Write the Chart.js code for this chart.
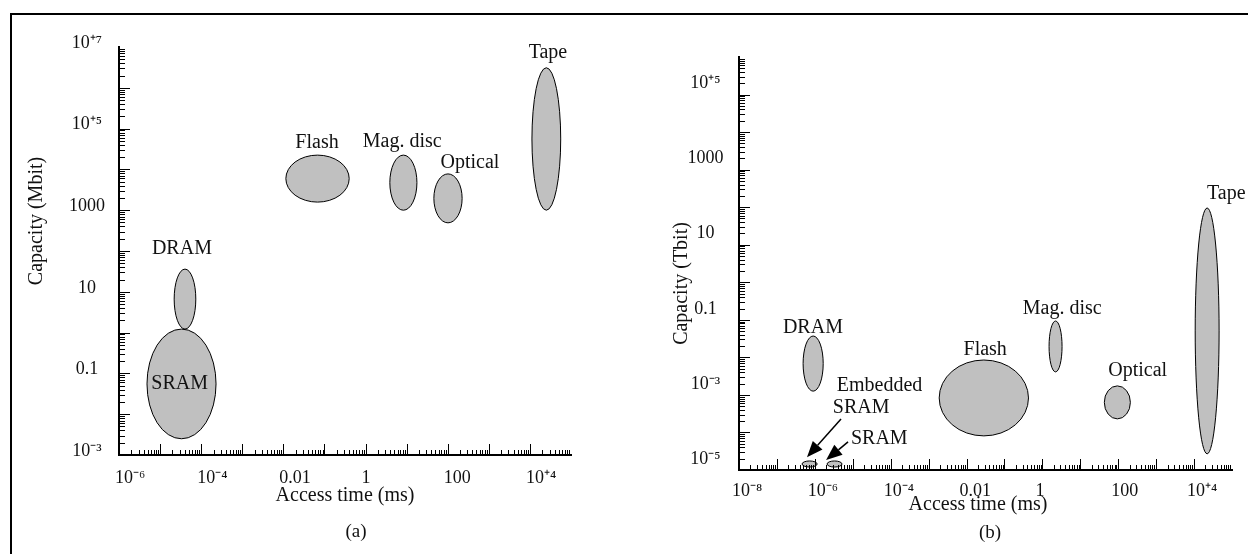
<!DOCTYPE html>
<html><head><meta charset="utf-8">
<script src="https://cdn.jsdelivr.net/npm/chart.js@4.4.1/dist/chart.umd.min.js"></script>
<style>
html,body{margin:0;padding:0;background:#fff;}
#wrap{position:relative;width:1248px;height:554px;overflow:hidden;background:#fff;}
#frame{position:absolute;left:10px;top:13px;right:-5px;bottom:-5px;border-top:2px solid #000;border-left:2px solid #000;}
canvas{position:absolute;top:0;}
#ca{left:0;width:620px;height:554px;}
#cb{left:620px;width:628px;height:554px;}
.cap{position:absolute;font-family:"Liberation Serif",serif;font-size:19px;color:#111;transform:translate(-50%,-50%);white-space:nowrap;}
</style></head>
<body><div id="wrap"><div id="frame"></div>
<canvas id="ca" width="620" height="554"></canvas>
<canvas id="cb" width="628" height="554"></canvas>
<div class="cap" style="left:356px;top:531px">(a)</div>
<div class="cap" style="left:990px;top:532px">(b)</div>
</div>
<script>
// ---------- Panel (a): capacity in Mbit vs access time in ms ----------
const techA      = ['SRAM', 'DRAM', 'Flash', 'Mag. disc', 'Optical', 'Tape'];
const accessMinA = [4.8e-6, 2.2e-5, 0.0115, 3.9, 46, 11200];
const accessMaxA = [2.3e-4, 7.4e-5, 0.40, 17.8, 224, 56200];
const capMinA    = [2.5e-3, 1.22, 1580, 1000, 490, 1000];
const capMaxA    = [1.22, 36, 22400, 22400, 7760, 3.1e6];
const labelXA    = [3.0e-5, 3.4e-5, 0.066, 7.8, 347, 27500];
const labelYA    = [0.055, 112, 44700, 46800, 14500, 7.1e6];
const xRangeA    = [1e-6, 1e5];
const yRangeA    = [1e-3, 1e7];
const xTickExpA  = [-6, -4, -2, 0, 2, 4];
const xTickTextA = ['10\u207B\u2076', '10\u207B\u2074', '0.01', '1', '100', '10\u207A\u2074'];
const yTickExpA  = [-3, -1, 1, 3, 5, 7];
const yTickTextA = ['10\u207B\u00B3', '0.1', '10', '1000', '10\u207A\u2075', '10\u207A\u2077'];

// ---------- Panel (b): capacity in Tbit vs access time in ms ----------
const techB      = ['Embedded SRAM', 'SRAM', 'DRAM', 'Flash', 'Mag. disc', 'Optical', 'Tape'];
const accessMinB = [4.6e-7, 2.1e-6, 4.9e-7, 1.9e-3, 1.5, 43, 10700];
const accessMaxB = [1.15e-6, 5.2e-6, 1.66e-6, 0.43, 3.3, 209, 45700];
const capMinB    = [1.2e-5, 1.2e-5, 1.26e-3, 8.1e-5, 4.1e-3, 2.3e-4, 2.7e-5];
const capMaxB    = [1.74e-5, 1.74e-5, 0.037, 8.5e-3, 0.093, 1.74e-3, 95];
const labelTextB = ['Embedded', 'SRAM', 'SRAM', 'DRAM', 'Flash', 'Mag. disc', 'Optical', 'Tape'];
const labelXB    = [5.1e-5, 1.66e-5, 5.0e-5, 8.9e-7, 0.031, 3.33, 327, 70800];
const labelYB    = [1.73e-3, 4.5e-4, 6.7e-5, 0.0605, 0.0157, 0.194, 4.3e-3, 224];
const arrowFromXB = [4.9e-6, 7.5e-6];
const arrowFromYB = [2.28e-4, 5.6e-5];
const arrowToXB   = [6.2e-7, 1.98e-6];
const arrowToYB   = [2.2e-5, 1.85e-5];
const xRangeB    = [1e-8, 1e5];
const yRangeB    = [1e-5, 1e6];
const xTickExpB  = [-8, -6, -4, -2, 0, 2, 4];
const xTickTextB = ['10\u207B\u2078', '10\u207B\u2076', '10\u207B\u2074', '0.01', '1', '100', '10\u207A\u2074'];
const yTickExpB  = [-5, -3, -1, 1, 3, 5];
const yTickTextB = ['10\u207B\u2075', '10\u207B\u00B3', '0.1', '10', '1000', '10\u207A\u2075'];

const FONT = '"Liberation Serif", "Times New Roman", serif';
Chart.defaults.font.family = FONT;
Chart.defaults.color = '#111';

function decadeTicks(scale) {
  const lo = Math.round(Math.log10(scale.min)), hi = Math.round(Math.log10(scale.max));
  const t = [];
  for (let e = lo; e < hi; e++) for (let k = 1; k <= 9; k++) t.push({value: k * Math.pow(10, e)});
  t.push({value: Math.pow(10, hi)});
  scale.ticks = t;
}
function tickLabel(exps, texts) {
  return (value) => {
    const e = Math.log10(value), r = Math.round(e);
    if (Math.abs(e - r) > 1e-6) return '';
    const i = exps.indexOf(r);
    return i >= 0 ? texts[i] : '';
  };
}
function isDecade(v) { const e = Math.log10(v); return Math.abs(e - Math.round(e)) < 1e-6; }

function overlayPlugin(spec) {
  return {
    id: 'overlay',
    beforeDatasetsDraw(chart) {
      const xs = chart.scales.x, ys = chart.scales.y, ctx = chart.ctx;
      ctx.save();
      for (let i = 0; i < spec.xMin.length; i++) {
        const x0 = xs.getPixelForValue(spec.xMin[i]), x1 = xs.getPixelForValue(spec.xMax[i]);
        const y0 = ys.getPixelForValue(spec.yMin[i]), y1 = ys.getPixelForValue(spec.yMax[i]);
        ctx.beginPath();
        ctx.ellipse((x0 + x1) / 2, (y0 + y1) / 2, Math.abs(x1 - x0) / 2, Math.abs(y1 - y0) / 2, 0, 0, Math.PI * 2);
        ctx.fillStyle = '#c0c0c0';
        ctx.fill();
        ctx.lineWidth = 1;
        ctx.strokeStyle = '#000';
        ctx.stroke();
      }
      ctx.restore();
    },
    afterDatasetsDraw(chart) {
      const xs = chart.scales.x, ys = chart.scales.y, ctx = chart.ctx;
      ctx.save();
      ctx.font = '20px ' + FONT;
      ctx.fillStyle = '#111';
      ctx.textAlign = 'center';
      ctx.textBaseline = 'middle';
      for (let i = 0; i < spec.lText.length; i++) {
        ctx.fillText(spec.lText[i], xs.getPixelForValue(spec.lX[i]), ys.getPixelForValue(spec.lY[i]));
      }
      if (spec.aFromX) {
        ctx.strokeStyle = '#000';
        ctx.fillStyle = '#000';
        for (let i = 0; i < spec.aFromX.length; i++) {
          const x0 = xs.getPixelForValue(spec.aFromX[i]), y0 = ys.getPixelForValue(spec.aFromY[i]);
          const x1 = xs.getPixelForValue(spec.aToX[i]), y1 = ys.getPixelForValue(spec.aToY[i]);
          const a = Math.atan2(y1 - y0, x1 - x0), L = 16, W = 6.5;
          const bx = x1 - L * Math.cos(a), by = y1 - L * Math.sin(a);
          ctx.lineWidth = 1.5;
          ctx.beginPath(); ctx.moveTo(x0, y0); ctx.lineTo(bx, by); ctx.stroke();
          ctx.beginPath();
          ctx.moveTo(x1, y1);
          ctx.lineTo(bx + W * Math.sin(a), by - W * Math.cos(a));
          ctx.lineTo(bx - W * Math.sin(a), by + W * Math.cos(a));
          ctx.closePath(); ctx.fill();
        }
      }
      ctx.restore();
    },
    afterDraw(chart) {
      const xs = chart.scales.x, ys = chart.scales.y, ctx = chart.ctx, ca = chart.chartArea;
      ctx.save();
      ctx.strokeStyle = '#000';
      ctx.lineWidth = 1;
      ctx.beginPath();
      xs.ticks.forEach(t => {
        if (t.value <= xs.min * 1.0001 || t.value >= xs.max * 0.9999) return;
        const p = Math.round(xs.getPixelForValue(t.value)) + 0.5;
        const len = isDecade(t.value) ? 11 : 5;
        ctx.moveTo(p, ca.bottom); ctx.lineTo(p, ca.bottom - len);
      });
      ys.ticks.forEach(t => {
        if (t.value <= ys.min * 1.0001 || t.value >= ys.max * 0.9999) return;
        const p = Math.round(ys.getPixelForValue(t.value)) + 0.5;
        const len = isDecade(t.value) ? 11 : 6;
        ctx.moveTo(ca.left, p); ctx.lineTo(ca.left + len, p);
      });
      ctx.stroke();
      ctx.restore();
    }
  };
}

function makeChart(id, o) {
  const centers = o.xMin.map((v, i) => ({x: Math.sqrt(v * o.xMax[i]), y: Math.sqrt(o.yMin[i] * o.yMax[i])}));
  return new Chart(document.getElementById(id), {
    type: 'scatter',
    data: {labels: o.tech, datasets: [{label: 'Memory technologies', data: centers, pointRadius: 0, pointHoverRadius: 0, showLine: false}]},
    options: {
      responsive: false, animation: false, devicePixelRatio: 1,
      layout: {padding: o.padding},
      plugins: {legend: {display: false}, tooltip: {enabled: false}},
      scales: {
        x: {
          type: 'logarithmic', min: o.xRange[0], max: o.xRange[1],
          afterBuildTicks: decadeTicks,
          afterFit: s => { s.height = 60; },
          grid: {display: false, drawTicks: false},
          border: {display: true, color: '#000', width: 2},
          ticks: {autoSkip: false, maxRotation: 0, minRotation: 0, align: 'start', labelOffset: o.xLabelOffset,
                  padding: o.xTickPad, color: '#111', font: {size: 18}, callback: tickLabel(o.xExp, o.xText)},
          title: {display: true, text: o.xTitle, color: '#111', font: {size: 20}, padding: {top: 0, bottom: o.xTitlePad}}
        },
        y: {
          type: 'logarithmic', min: o.yRange[0], max: o.yRange[1],
          afterBuildTicks: decadeTicks,
          afterFit: s => { s.width = 100; },
          grid: {display: false, drawTicks: false},
          border: {display: true, color: '#000', width: 2},
          ticks: {autoSkip: false, crossAlign: 'center', labelOffset: o.yLabelOffset, padding: o.yTickPad,
                  color: '#111', font: {size: 18}, callback: tickLabel(o.yExp, o.yText)},
          title: {display: true, text: o.yTitle, color: '#111', font: {size: 20}, padding: {top: o.yTitlePad, bottom: 0}}
        }
      }
    },
    plugins: [overlayPlugin(o)]
  });
}

makeChart('ca', {
  tech: techA, xMin: accessMinA, xMax: accessMaxA, yMin: capMinA, yMax: capMaxA,
  lText: techA, lX: labelXA, lY: labelYA,
  xRange: xRangeA, yRange: yRangeA, xExp: xTickExpA, xText: xTickTextA, yExp: yTickExpA, yText: yTickTextA,
  padding: {left: 19, right: 49, top: 47, bottom: 39},
  xLabelOffset: -4, xTickPad: 12, xTitlePad: 7,
  yLabelOffset: -4, yTickPad: 14, yTitlePad: 5.5,
  xTitle: 'Access time (ms)',
  yTitle: '            Capacity (Mbit)'
});

makeChart('cb', {
  tech: techB, xMin: accessMinB, xMax: accessMaxB, yMin: capMinB, yMax: capMaxB,
  lText: labelTextB, lX: labelXB, lY: labelYB,
  aFromX: arrowFromXB, aFromY: arrowFromYB, aToX: arrowToXB, aToY: arrowToYB,
  xRange: xRangeB, yRange: yRangeB, xExp: xTickExpB, xText: xTickTextB, yExp: yTickExpB, yText: yTickTextB,
  padding: {left: 19, right: 16, top: 57, bottom: 24},
  xLabelOffset: -7, xTickPad: 10, xTitlePad: 13.5,
  yLabelOffset: -11, yTickPad: 15.5, yTitlePad: 31,
  xTitle: 'Access time (ms)   ',
  yTitle: 'Capacity (Tbit)        '
});
</script>
</body></html>
